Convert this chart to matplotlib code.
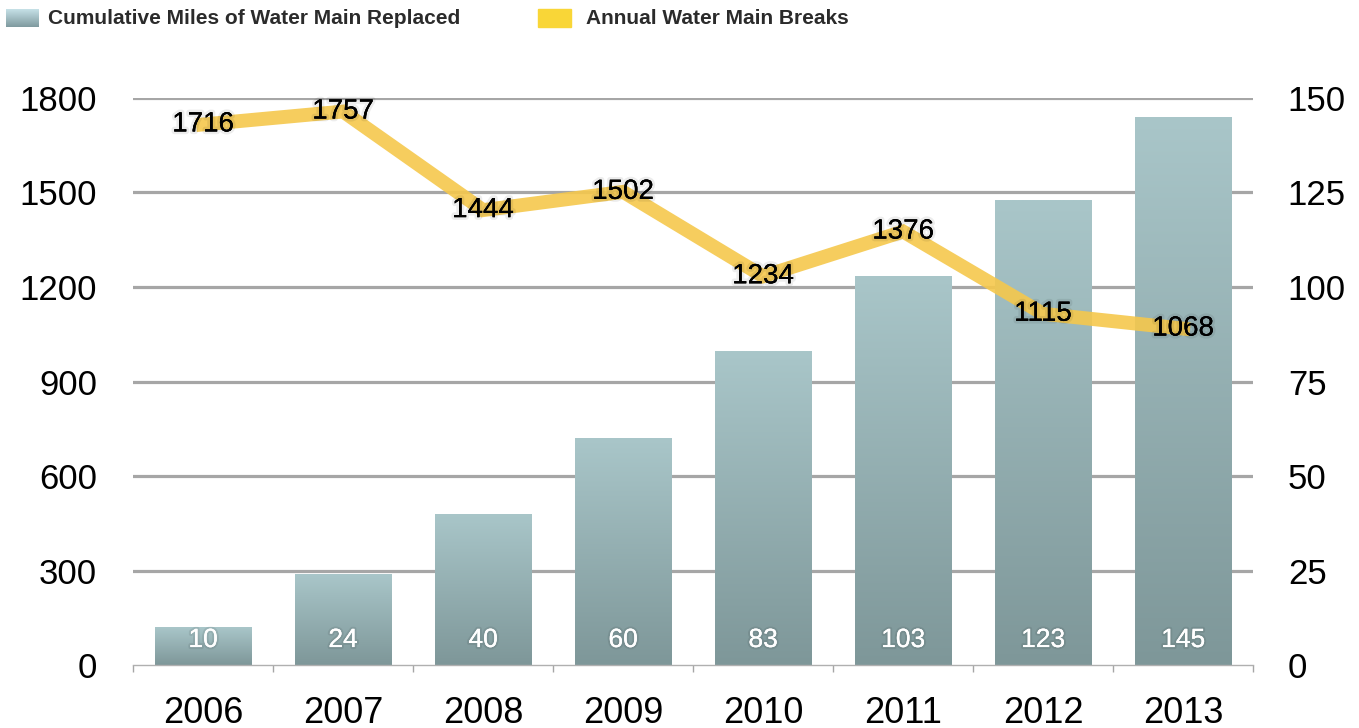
import numpy as np
import matplotlib.pyplot as plt
import matplotlib.patheffects as pe
from matplotlib.colors import LinearSegmentedColormap

plt.rcParams['font.family'] = ['Liberation Sans', 'DejaVu Sans']

years = ['2006', '2007', '2008', '2009', '2010', '2011', '2012', '2013']
miles_replaced = [10, 24, 40, 60, 83, 103, 123, 145]
main_breaks = [1716, 1757, 1444, 1502, 1234, 1376, 1115, 1068]

bar_cmap = LinearSegmentedColormap.from_list('bars', ['#7e9799', '#a9c6c9'])
legend_cmap = LinearSegmentedColormap.from_list('leg', ['#7f9a9e', '#c6e1e8'])
line_color = '#f5c84c'
grid_color = '#a6a6a6'

fig = plt.figure(figsize=(13.59, 7.28), dpi=100)
ax = fig.add_axes([0.0979, 0.0865, 0.8242, 0.7789])
ax2 = ax.twinx()
x = np.arange(len(years))
width = 0.69

# bars (right axis scale), each filled with a vertical gradient
ax.set_xlim(-0.5, len(years) - 0.5)
ax.set_ylim(0, 150)
grad = np.linspace(0, 1, 256).reshape(-1, 1)
bar_shadow = [pe.withStroke(linewidth=3, foreground=(0, 0, 0, 0.08)), pe.Normal()]
for xi, v in zip(x, miles_replaced):
    bar = ax.bar(xi, v, width=width, color='none', edgecolor='none', zorder=2)[0]
    img = ax.imshow(grad, cmap=bar_cmap, origin='lower', aspect='auto',
                    extent=(xi - width / 2, xi + width / 2, 0, v), zorder=2)
    img.set_clip_path(bar)
    ax.annotate(str(v), (xi, 0), xytext=(0, 18), textcoords='offset points',
                ha='center', va='center', color='white', fontsize=19, zorder=3,
                path_effects=bar_shadow)

for gy in [25, 50, 75, 100, 125, 150]:
    ax.axhline(gy, color=grid_color, lw=2.3, zorder=1)

ax.set_yticks([0, 25, 50, 75, 100, 125, 150])
ax.set_xticks(x)
ax.set_xticklabels(years)
ax.set_xticks(np.arange(-0.5, len(years)), minor=True)
ax.tick_params(axis='x', which='major', length=0, pad=22, labelsize=26)
ax.tick_params(axis='x', which='minor', length=5, color=grid_color, width=1)
for s in ['top', 'left', 'right']:
    ax.spines[s].set_visible(False)
ax.spines['bottom'].set_color('#b0b0b0')
ax.spines['bottom'].set_linewidth(1)

# line (left axis scale)
ax2.set_ylim(0, 1800)
ax2.plot(x, main_breaks, color=line_color, lw=10, alpha=0.9,
         solid_joinstyle='miter', zorder=2)
ax2.set_yticks([0, 300, 600, 900, 1200, 1500, 1800])
for s in ax2.spines.values():
    s.set_visible(False)

# bars read on the right, breaks on the left
ax.yaxis.tick_right()
ax.tick_params(axis='y', which='both', left=False, labelleft=False,
               right=False, labelright=True, length=0, pad=25, labelsize=25)
ax2.yaxis.tick_left()
ax2.tick_params(axis='y', which='both', right=False, labelright=False,
                left=False, labelleft=True, length=0, pad=26, labelsize=25)

glow = [pe.withStroke(linewidth=4, foreground=(0, 0, 0, 0.07)), pe.Normal()]
for xi, v in zip(x, main_breaks):
    ax2.text(xi, v, str(v), ha='center', va='center', fontsize=20,
             color='black', path_effects=glow, zorder=4)

# legend across the top
leg_font = ['Liberation Sans Narrow', 'Liberation Sans', 'DejaVu Sans']
lax = fig.add_axes([6 / 1359, 1 - 27 / 728, 33 / 1359, 18 / 728])
lax.imshow(grad, cmap=legend_cmap, origin='lower', aspect='auto')
lax.axis('off')
fig.patches.append(plt.Rectangle((538 / 1359, 1 - 27 / 728), 33 / 1359, 18 / 728,
                                 transform=fig.transFigure, color='#f9d637'))
fig.text(48 / 1359, 1 - 19 / 728, 'Cumulative Miles of Water Main Replaced',
         family=leg_font, fontweight='bold', fontsize=15, color='#2b2b2b', va='center')
fig.text(586 / 1359, 1 - 19 / 728, 'Annual Water Main Breaks',
         family=leg_font, fontweight='bold', fontsize=15, color='#2b2b2b', va='center')

fig.savefig('out.png', dpi=100)
